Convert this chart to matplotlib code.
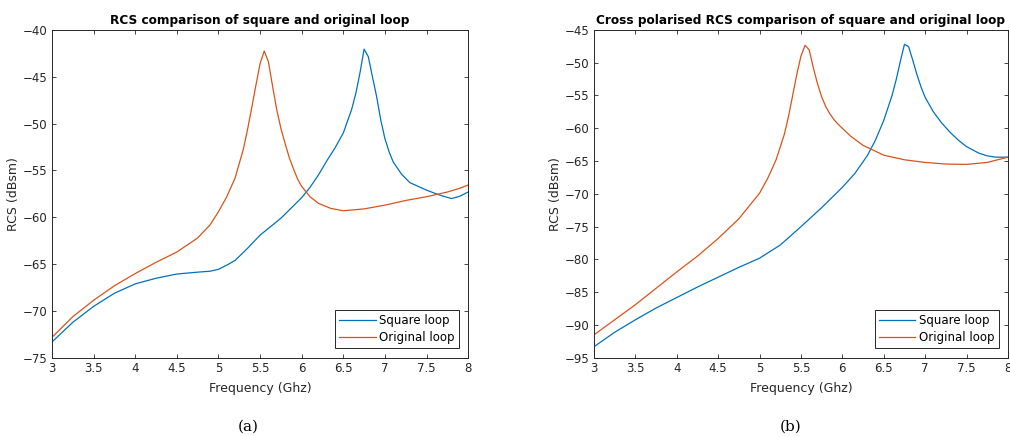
import numpy as np
import matplotlib.pyplot as plt

# panel (a): co-polarised RCS
freq_a_sq = [3.0, 3.25, 3.5, 3.75, 4.0, 4.25, 4.5, 4.75, 4.9, 5.0, 5.1, 5.2, 5.35, 5.5, 5.75,
             6.0, 6.1, 6.2, 6.3, 6.4, 6.5, 6.6, 6.65, 6.7, 6.75, 6.8, 6.85, 6.9, 6.95, 7.0,
             7.05, 7.1, 7.2, 7.3, 7.5, 7.65, 7.8, 7.9, 8.0]
rcs_a_sq = [-73.3, -71.2, -69.5, -68.1, -67.1, -66.5, -66.05, -65.85, -65.75, -65.55, -65.1, -64.6,
            -63.3, -61.9, -60.1, -57.9, -56.8, -55.5, -54.0, -52.6, -51.0, -48.5, -46.8, -44.6,
            -42.06, -42.85, -45.0, -47.1, -49.6, -51.6, -53.0, -54.1, -55.4, -56.3, -57.1, -57.6,
            -58.0, -57.75, -57.3]

freq_a_or = [3.0, 3.25, 3.5, 3.75, 4.0, 4.25, 4.5, 4.75, 4.9, 5.0, 5.1, 5.2, 5.3, 5.35, 5.4,
             5.45, 5.5, 5.55, 5.6, 5.65, 5.7, 5.75, 5.8, 5.85, 5.9, 5.95, 6.0, 6.1, 6.2, 6.35,
             6.5, 6.75, 7.0, 7.25, 7.5, 7.75, 7.9, 8.0]
rcs_a_or = [-72.8, -70.6, -68.85, -67.3, -66.0, -64.8, -63.7, -62.2, -60.8, -59.4, -57.8, -55.8,
            -52.7, -50.6, -48.3, -45.9, -43.6, -42.25, -43.4, -46.0, -48.5, -50.5, -52.1, -53.6,
            -54.8, -55.9, -56.7, -57.8, -58.5, -59.05, -59.3, -59.1, -58.7, -58.2, -57.8, -57.3,
            -56.9, -56.55]

# panel (b): cross polarised RCS
freq_b_sq = [3.0, 3.25, 3.5, 3.75, 4.0, 4.25, 4.5, 4.75, 5.0, 5.25, 5.5, 5.75, 6.0, 6.15, 6.3,
             6.4, 6.5, 6.6, 6.65, 6.7, 6.75, 6.8, 6.85, 6.9, 6.95, 7.0, 7.1, 7.2, 7.3, 7.4,
             7.5, 7.65, 7.75, 7.85, 8.0]
rcs_b_sq = [-93.3, -91.1, -89.2, -87.4, -85.8, -84.2, -82.7, -81.2, -79.8, -77.8, -75.0, -72.1,
            -69.0, -66.9, -64.2, -61.8, -58.8, -55.0, -52.6, -49.8, -47.2, -47.55, -49.6, -51.8,
            -53.7, -55.3, -57.5, -59.2, -60.6, -61.8, -62.8, -63.8, -64.2, -64.4, -64.4]

freq_b_or = [3.0, 3.25, 3.5, 3.75, 4.0, 4.25, 4.5, 4.75, 5.0, 5.1, 5.2, 5.3, 5.35, 5.4, 5.45,
             5.5, 5.55, 5.6, 5.65, 5.7, 5.75, 5.8, 5.85, 5.9, 5.95, 6.0, 6.1, 6.25, 6.5, 6.75,
             7.0, 7.25, 7.5, 7.75, 8.0]
rcs_b_or = [-91.5, -89.2, -86.9, -84.4, -81.9, -79.5, -76.8, -73.8, -69.9, -67.6, -64.8, -60.9,
            -58.2, -55.0, -51.8, -49.0, -47.35, -48.05, -50.8, -53.2, -55.2, -56.7, -57.8, -58.7,
            -59.4, -60.0, -61.2, -62.6, -64.1, -64.8, -65.2, -65.45, -65.5, -65.2, -64.4]

labels = ['Square loop', 'Original loop']
c_sq = '#0072BD'
c_or = '#D95319'
dark = '#262626'

plt.rcParams['font.family'] = ['DejaVu Sans']
plt.rcParams['font.size'] = 8

fig = plt.figure(figsize=(10.1, 4.37), dpi=100)
ax1 = fig.add_axes([0.0515, 0.181, 0.412, 0.7506])
ax2 = fig.add_axes([0.588, 0.181, 0.410, 0.7506])

panels = [
    (ax1, freq_a_sq, rcs_a_sq, freq_a_or, rcs_a_or, (-75, -40),
     'RCS comparison of square and original loop'),
    (ax2, freq_b_sq, rcs_b_sq, freq_b_or, rcs_b_or, (-95, -45),
     'Cross polarised RCS comparison of square and original loop'),
]

for ax, fs, rs, fo, ro, ylim, title in panels:
    ax.plot(fs, rs, color=c_sq, lw=0.9, label=labels[0])
    ax.plot(fo, ro, color=c_or, lw=0.9, label=labels[1])
    ax.set_xlim(3, 8)
    ax.set_ylim(*ylim)
    ax.set_xticks(np.arange(3, 8.01, 0.5))
    ax.set_xticklabels(['3', '3.5', '4', '4.5', '5', '5.5', '6', '6.5', '7', '7.5', '8'])
    ax.set_yticks(np.arange(ylim[0], ylim[1] + 0.1, 5))
    ax.tick_params(direction='in', top=True, right=True, length=3, width=0.6,
                   colors=dark, labelsize=8.5, pad=3)
    for s in ax.spines.values():
        s.set_color(dark)
        s.set_linewidth(0.7)
    ax.set_title(title, fontsize=8.7, fontweight='bold', pad=4)
    ax.set_xlabel('Frequency (Ghz)', fontsize=9, color=dark, labelpad=5)
    ax.set_ylabel('RCS (dBsm)', fontsize=9, color=dark, labelpad=2)
    leg = ax.legend(loc='lower right', fontsize=8.5, fancybox=False, framealpha=1,
                    edgecolor=dark, handlelength=3.1, borderpad=0.35, labelspacing=0.35,
                    handletextpad=0.3, borderaxespad=0.8)
    leg.get_frame().set_linewidth(0.7)

fig.text(0.2455, 0.015, '(a)', family='DejaVu Serif', fontsize=11, ha='center')
fig.text(0.7825, 0.015, '(b)', family='DejaVu Serif', fontsize=11, ha='center')

fig.savefig('out.png', dpi=100)
